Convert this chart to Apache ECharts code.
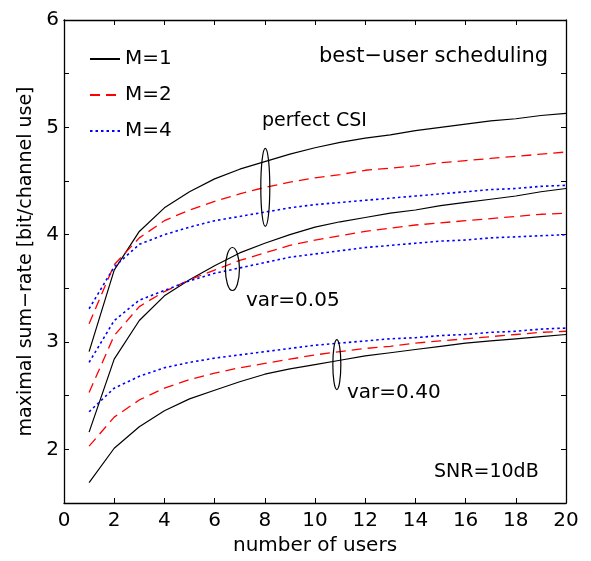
<!DOCTYPE html>
<html>
<head>
<meta charset="utf-8">
<script src="https://cdn.jsdelivr.net/npm/echarts@6/dist/echarts.min.js"></script>
<style>
  html, body { margin: 0; padding: 0; background: #fff; }
  #chart { width: 591px; height: 561px; }
</style>
</head>
<body>
<div id="chart"></div>
<script>
// number of users
const users = [1, 2, 3, 4, 5, 6, 7, 8, 9, 10, 11, 12, 13, 14, 15, 16, 17, 18, 19, 20];

// perfect CSI
const perfectM1 = [2.91, 3.67, 4.03, 4.25, 4.40, 4.52, 4.61, 4.68, 4.75, 4.81, 4.86, 4.90, 4.93, 4.97, 5.00, 5.03, 5.06, 5.08, 5.11, 5.13];
const perfectM2 = [3.17, 3.72, 3.97, 4.13, 4.23, 4.31, 4.38, 4.44, 4.49, 4.53, 4.56, 4.60, 4.62, 4.64, 4.67, 4.69, 4.71, 4.73, 4.75, 4.77];
const perfectM4 = [3.31, 3.70, 3.91, 4.00, 4.07, 4.13, 4.17, 4.21, 4.25, 4.28, 4.30, 4.32, 4.34, 4.36, 4.38, 4.40, 4.42, 4.43, 4.45, 4.46];

// var = 0.05
const var005M1 = [2.16, 2.84, 3.20, 3.43, 3.58, 3.71, 3.83, 3.92, 4.00, 4.07, 4.12, 4.16, 4.20, 4.23, 4.27, 4.30, 4.33, 4.36, 4.40, 4.43];
const var005M2 = [2.53, 3.06, 3.33, 3.47, 3.58, 3.67, 3.76, 3.83, 3.90, 3.95, 3.99, 4.03, 4.06, 4.09, 4.11, 4.13, 4.15, 4.17, 4.19, 4.20];
const var005M4 = [2.81, 3.20, 3.39, 3.48, 3.57, 3.64, 3.69, 3.74, 3.79, 3.82, 3.85, 3.88, 3.90, 3.92, 3.94, 3.95, 3.97, 3.98, 3.99, 4.00];

// var = 0.40
const var040M1 = [1.69, 2.01, 2.21, 2.36, 2.47, 2.55, 2.63, 2.70, 2.75, 2.79, 2.83, 2.87, 2.90, 2.93, 2.96, 2.99, 3.01, 3.03, 3.05, 3.07];
const var040M2 = [2.03, 2.30, 2.46, 2.57, 2.65, 2.71, 2.76, 2.80, 2.84, 2.88, 2.91, 2.94, 2.96, 2.99, 3.01, 3.03, 3.05, 3.07, 3.09, 3.10];
const var040M4 = [2.35, 2.57, 2.68, 2.76, 2.81, 2.85, 2.88, 2.91, 2.94, 2.97, 2.99, 3.01, 3.03, 3.04, 3.06, 3.07, 3.09, 3.10, 3.12, 3.13];

const legendNames = ['M=1', 'M=2', 'M=4'];

const FONT = 'DejaVu Sans';

const styles = {
    'M=1': { color: '#000000', type: 'solid', width: 1.2 },
    'M=2': { color: '#ff0000', type: [10, 6], width: 1.3 },
    'M=4': { color: '#0000ff', type: [2.5, 3], width: 1.6 }
};

const makeSeries = (name, values) => {
    const s = styles[name];
    return {
        name: name,
        type: 'line',
        data: users.map((u, i) => [u, values[i]]),
        showSymbol: false,
        symbol: 'none',
        silent: true,
        color: s.color,
        lineStyle: { color: s.color, type: s.type, width: s.width }
    };
};

const chart = echarts.init(document.getElementById('chart'));

const axisCommon = {
    axisLine: { show: true, onZero: false, lineStyle: { color: '#000', width: 1.3 } },
    axisTick: { show: true, inside: true, length: 5, lineStyle: { color: '#000', width: 1 } },
    splitLine: { show: false }
};

const option = {
    animation: false,
    backgroundColor: '#fff',
    grid: { left: 64, right: 25, top: 20, bottom: 53 },
    legend: {
        data: legendNames,
        orient: 'vertical',
        left: 89,
        top: 49,
        padding: 0,
        itemWidth: 30,
        itemHeight: 14,
        itemGap: 16,
        itemStyle: { opacity: 0 },
        textStyle: { fontFamily: FONT, fontSize: 20, color: '#000' }
    },
    xAxis: [
        Object.assign({
            type: 'value', position: 'bottom', min: 0, max: 20, interval: 2,
            name: 'number of users', nameLocation: 'middle', nameGap: 33,
            nameTextStyle: { fontFamily: FONT, fontSize: 20, color: '#000' },
            axisLabel: { fontFamily: FONT, fontSize: 20, color: '#000', margin: 8 }
        }, axisCommon),
        Object.assign({
            type: 'value', position: 'top', min: 0, max: 20, interval: 2,
            axisLabel: { show: false }
        }, axisCommon)
    ],
    yAxis: [
        Object.assign({
            type: 'value', position: 'left', min: 1.5, max: 6, interval: 0.5,
            name: 'maximal sum\u2212rate [bit/channel use]', nameLocation: 'middle', nameGap: 27,
            nameTextStyle: { fontFamily: FONT, fontSize: 19, color: '#000' },
            axisLabel: {
                fontFamily: FONT, fontSize: 20, color: '#000', margin: 5,
                formatter: v => (Math.abs(v - Math.round(v)) < 1e-9 ? String(Math.round(v)) : '')
            }
        }, axisCommon),
        Object.assign({
            type: 'value', position: 'right', min: 1.5, max: 6, interval: 0.5,
            axisLabel: { show: false }
        }, axisCommon)
    ],
    series: [
        makeSeries('M=1', perfectM1),
        makeSeries('M=2', perfectM2),
        makeSeries('M=4', perfectM4),
        makeSeries('M=1', var005M1),
        makeSeries('M=2', var005M2),
        makeSeries('M=4', var005M4),
        makeSeries('M=1', var040M1),
        makeSeries('M=2', var040M2),
        makeSeries('M=4', var040M4)
    ]
};

chart.setOption(option);

// annotation ellipses grouping the curves, centred in data units
const ellipses = [
    { at: [8.02, 4.44], rx: 4.5, ry: 39 },
    { at: [6.71, 3.68], rx: 7, ry: 21.5 },
    { at: [10.87, 2.79], rx: 4, ry: 25 }
];

const labels = [
    { text: 'best\u2212user scheduling', x: 319, y: 57, size: 21 },
    { text: 'perfect CSI', x: 262, y: 121, size: 19 },
    { text: 'var=0.05', x: 246, y: 301, size: 20 },
    { text: 'var=0.40', x: 347, y: 393, size: 20 },
    { text: 'SNR=10dB', x: 434, y: 472, size: 19 }
];

const graphics = [];
ellipses.forEach(e => {
    const p = chart.convertToPixel({ gridIndex: 0 }, e.at);
    graphics.push({
        type: 'ellipse',
        silent: true,
        shape: { cx: p[0], cy: p[1], rx: e.rx, ry: e.ry },
        style: { fill: 'none', stroke: '#000', lineWidth: 1.2 },
        z: 10
    });
});
labels.forEach(l => {
    graphics.push({
        type: 'text',
        silent: true,
        x: l.x,
        y: l.y,
        style: {
            text: l.text,
            fill: '#000',
            font: l.size + 'px "' + FONT + '"',
            textAlign: 'left',
            textVerticalAlign: 'middle'
        },
        z: 10
    });
});

chart.setOption({ graphic: graphics });
</script>
</body>
</html>
